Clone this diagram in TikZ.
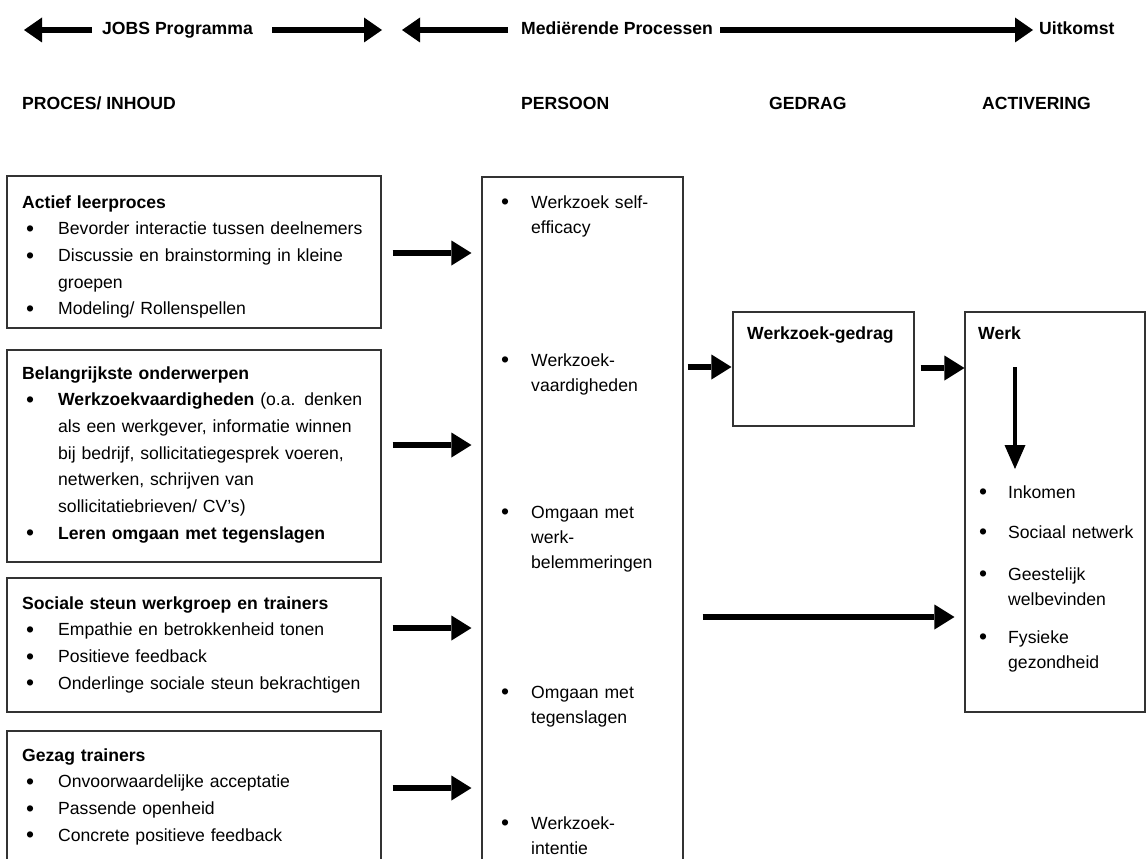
\documentclass[tikz,border=0pt]{standalone}
\usepackage{fontspec}
\setmainfont{Liberation Sans}
\usetikzlibrary{arrows.meta}

% bullets and hanging indents for the three kinds of lists
\newcommand\bigbul{\raisebox{-1.7pt}{\scalebox{1.3}{\textbullet}}}
\newcommand\lbul{\makebox[36pt][l]{\hspace*{4pt}\bigbul}}
\newcommand\lind{\hspace*{36pt}}
\newcommand\mbul{\makebox[33pt][l]{\hspace*{3pt}\bigbul}}
\newcommand\mind{\hspace*{33pt}}
\newcommand\wbul{\makebox[32pt][l]{\hspace*{3pt}\bigbul}}
\newcommand\wind{\hspace*{32pt}}

\tikzset{
  box/.style={draw=black!80, line width=1.1pt, rectangle, inner sep=0pt},
  ltxt/.style={anchor=base west, inner sep=0pt, text width=360pt, align=left,
               font=\fontsize{17.6}{26.7}\selectfont},
  mtxt/.style={anchor=base west, inner sep=0pt, text width=180pt, align=left,
               font=\fontsize{17.6}{25.3}\selectfont},
  hdr/.style={anchor=base west, inner sep=0pt, font=\fontsize{17.6}{21}\selectfont\bfseries},
  harrow/.style={line width=6pt, -{Triangle[length=18pt,width=25pt,line width=0pt]}},
  barrow/.style={line width=6.5pt, -{Triangle[length=20pt,width=25pt,line width=0pt]}},
  darrow/.style={line width=4.5pt, -{Triangle[length=24pt,width=21pt,line width=0pt]}},
}

\begin{document}
\begin{tikzpicture}[x=1pt,y=-1pt]
\clip (0,0) rectangle (1146,859);
\fill[white] (0,0) rectangle (1146,859);

% column headings
\node[hdr] (jobs)  at (102,35)  {JOBS Programma};
\node[hdr] (med)   at (521,35)  {Mediërende Processen};
\node[hdr] (uit)   at (1039,35) {Uitkomst};
\node[hdr] (proc)  at (22,110)  {PROCES/ INHOUD};
\node[hdr] (pers)  at (521,110) {PERSOON};
\node[hdr] (gedr)  at (769,110) {GEDRAG};
\node[hdr] (activ) at (982,110) {ACTIVERING};

\coordinate (jL) at (24,30);
\coordinate (jR) at (382,30);
\coordinate (mL) at (402,30);
\draw[harrow, shorten <=10pt] (jobs.west |- 0,30) -- (jL);
\draw[harrow, shorten <=19pt] (jobs.east |- 0,30) -- (jR);
\draw[harrow, shorten <=13pt] (med.west |- 0,30) -- (mL);
\draw[harrow, shorten <=7pt, shorten >=6pt] (med.east |- 0,30) -- (uit.west |- 0,30);

% programme components
\node[box, minimum width=374pt, minimum height=152pt] (b1) at (194,252) {};
\node[box, minimum width=374pt, minimum height=212pt] (b2) at (194,456) {};
\node[box, minimum width=374pt, minimum height=134pt] (b3) at (194,645) {};
\node[box, minimum width=374pt, minimum height=144pt] (b4) at (194,803) {};

\node[ltxt] (t1) at (22,208) {\textbf{Actief leerproces}\\
  \lbul Bevorder interactie tussen deelnemers\\
  \lbul Discussie en brainstorming in kleine\\
  \lind groepen\\
  \lbul Modeling/ Rollenspellen};
\node[ltxt] (t2) at (22,379) {\textbf{Belangrijkste onderwerpen}\\
  \lbul \textbf{Werkzoekvaardigheden} (o.a. denken\\
  \lind als een werkgever, informatie winnen\\
  \lind bij bedrijf, sollicitatiegesprek voeren,\\
  \lind netwerken, schrijven van\\
  \lind sollicitatiebrieven/ CV's)\\
  \lbul \textbf{Leren omgaan met tegenslagen}};
\node[ltxt] (t3) at (22,609) {\textbf{Sociale steun werkgroep en trainers}\\
  \lbul Empathie en betrokkenheid tonen\\
  \lbul Positieve feedback\\
  \lbul Onderlinge sociale steun bekrachtigen};
\node[ltxt] (t4) at (22,761) {\textbf{Gezag trainers}\\
  \lbul Onvoorwaardelijke acceptatie\\
  \lbul Passende openheid\\
  \lbul Concrete positieve feedback};

% mediating processes
\node[box, minimum width=201pt, minimum height=698pt] (mid) at (582.5,526) {};
\node[mtxt] (m1) at (498,208) {\mbul Werkzoek self-\\ \mind efficacy};
\node[mtxt] (m2) at (498,366) {\mbul Werkzoek-\\ \mind vaardigheden};
\node[mtxt] (m3) at (498,518) {\mbul Omgaan met\\ \mind werk-\\ \mind belemmeringen};
\node[mtxt] (m4) at (498,698) {\mbul Omgaan met\\ \mind tegenslagen};
\node[mtxt] (m5) at (498,829) {\mbul Werkzoek-\\ \mind intentie};

% behaviour
\node[box, minimum width=181pt, minimum height=114pt] (ged) at (823.5,369) {};
\node[mtxt] (gt) at (747,339) {\textbf{Werkzoek-gedrag}};

% outcome
\node[box, minimum width=180pt, minimum height=400pt] (werk) at (1055,512) {};
\node[mtxt] (wt) at (978,339) {\textbf{Werk}};
\node[mtxt] (w1) at (976,498) {\wbul Inkomen};
\node[mtxt] (w2) at (976,538) {\wbul Sociaal netwerk};
\node[mtxt] (w3) at (976,580) {\wbul Geestelijk\\ \wind welbevinden};
\node[mtxt] (w4) at (976,643) {\wbul Fysieke\\ \wind gezondheid};

% connectors
\draw[barrow, shorten <=11pt, shorten >=10pt] (b1.east |- 0,253) -- (mid.west |- 0,253);
\draw[barrow, shorten <=11pt, shorten >=10pt] (b2.east |- 0,445) -- (mid.west |- 0,445);
\draw[barrow, shorten <=11pt, shorten >=10pt] (b3.east |- 0,628) -- (mid.west |- 0,628);
\draw[barrow, shorten <=11pt, shorten >=10pt] (b4.east |- 0,788) -- (mid.west |- 0,788);
\draw[barrow, shorten <=4pt, shorten >=1pt] (mid.east |- 0,367) -- (ged.west |- 0,367);
\draw[barrow, shorten <=6pt] (ged.east |- 0,368) -- (werk.west |- 0,368);
\draw[barrow, shorten <=19pt, shorten >=10pt] (mid.east |- 0,617) -- (werk.west |- 0,617);

\coordinate (dTop) at (1015,367);
\coordinate (dTip) at (1015,469);
\draw[darrow] (dTop) -- (dTip);
\end{tikzpicture}
\end{document}
